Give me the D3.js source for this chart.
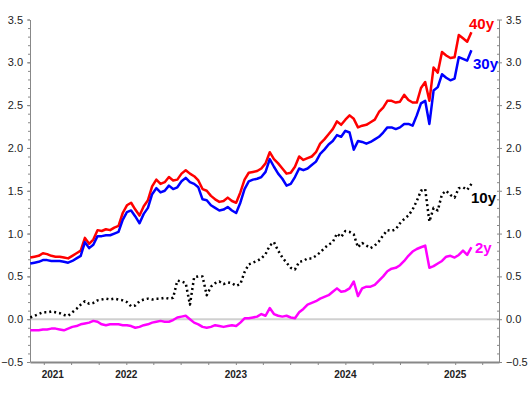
<!DOCTYPE html>
<html lang="en">
<head>
<meta charset="utf-8">
<title>Yields 2y 10y 30y 40y</title>
<script src="https://cdn.jsdelivr.net/npm/d3@7"></script>
<style>
  body { margin: 0; background: #fff; }
  svg { display: block; font-family: Arial, "Liberation Sans", sans-serif; }
  .axis path, .axis line { stroke: #888; }
  .axis text { fill: #222; font-size: 11px; }
</style>
</head>
<body>
<script>
// chart data, one value every two weeks from startDate
var startDate = "2021-02-15";
var stepDays = 14;

var y40 = [0.72,0.73,0.74,0.77,0.76,0.74,0.73,0.73,0.72,0.71,
           0.74,0.77,0.80,0.95,0.88,0.93,1.04,1.03,1.05,1.04,
           1.07,1.09,1.24,1.33,1.36,1.28,1.21,1.32,1.39,1.55,
           1.63,1.58,1.60,1.66,1.62,1.63,1.70,1.74,1.70,1.67,
           1.62,1.52,1.50,1.44,1.40,1.37,1.38,1.42,1.38,1.36,
           1.48,1.63,1.71,1.72,1.73,1.76,1.82,1.95,1.87,1.82,
           1.76,1.70,1.71,1.78,1.90,1.86,1.88,1.90,1.95,2.05,
           2.10,2.16,2.22,2.31,2.27,2.33,2.38,2.34,2.24,2.26,
           2.27,2.30,2.33,2.42,2.47,2.55,2.55,2.53,2.54,2.62,
           2.56,2.53,2.53,2.70,2.77,2.55,2.94,2.88,3.12,3.08,
           3.05,3.06,3.32,3.28,3.24,3.35];

var y30 = [0.65,0.66,0.67,0.69,0.69,0.68,0.68,0.68,0.67,0.66,
           0.68,0.71,0.74,0.90,0.83,0.87,0.97,0.97,0.98,0.98,
           1.00,1.02,1.16,1.25,1.27,1.20,1.12,1.23,1.30,1.46,
           1.53,1.48,1.50,1.56,1.52,1.54,1.61,1.65,1.60,1.58,
           1.54,1.40,1.39,1.33,1.30,1.27,1.28,1.31,1.27,1.24,
           1.36,1.52,1.61,1.63,1.64,1.66,1.72,1.87,1.78,1.70,
           1.64,1.56,1.58,1.66,1.76,1.74,1.76,1.80,1.84,1.93,
           1.98,2.04,2.08,2.15,2.13,2.20,2.18,1.98,2.08,2.07,
           2.05,2.07,2.10,2.13,2.18,2.24,2.24,2.22,2.24,2.28,
           2.28,2.26,2.38,2.52,2.55,2.28,2.67,2.71,2.86,2.82,
           2.79,2.81,3.06,3.04,3.02,3.14];

var y10 = [0.02,0.04,0.06,0.08,0.08,0.09,0.08,0.07,0.05,0.04,
           0.08,0.12,0.17,0.21,0.18,0.19,0.22,0.23,0.24,0.23,
           0.24,0.23,0.22,0.20,0.15,0.16,0.21,0.23,0.24,0.23,
           0.24,0.24,0.25,0.24,0.25,0.45,0.44,0.42,0.17,0.49,
           0.50,0.50,0.28,0.38,0.42,0.44,0.41,0.43,0.42,0.39,
           0.41,0.55,0.64,0.66,0.68,0.71,0.76,0.86,0.90,0.80,
           0.72,0.66,0.60,0.58,0.67,0.68,0.71,0.71,0.74,0.78,
           0.83,0.87,0.90,1.00,0.96,1.03,1.02,0.99,0.84,0.89,
           0.86,0.83,0.86,0.91,0.98,1.04,1.03,1.05,1.12,1.17,
           1.21,1.28,1.38,1.50,1.52,1.14,1.30,1.27,1.46,1.50,
           1.45,1.42,1.53,1.54,1.51,1.58];

var y2 = [-0.13,-0.13,-0.13,-0.12,-0.12,-0.11,-0.11,-0.12,-0.13,-0.11,
          -0.09,-0.08,-0.06,-0.05,-0.04,-0.02,-0.03,-0.06,-0.07,-0.06,
          -0.06,-0.06,-0.07,-0.07,-0.08,-0.10,-0.09,-0.07,-0.06,-0.04,
          -0.03,-0.02,-0.03,-0.03,-0.01,0.02,0.03,0.04,0.00,-0.04,
          -0.06,-0.09,-0.10,-0.09,-0.07,-0.08,-0.09,-0.08,-0.07,-0.08,
          -0.04,0.01,0.01,0.02,0.03,0.06,0.04,0.13,0.06,0.04,
          0.03,0.04,0.02,0.01,0.08,0.12,0.17,0.19,0.21,0.24,
          0.26,0.28,0.32,0.36,0.32,0.33,0.36,0.44,0.27,0.36,
          0.38,0.38,0.40,0.45,0.50,0.56,0.59,0.60,0.63,0.68,
          0.74,0.79,0.82,0.84,0.86,0.60,0.62,0.65,0.68,0.73,
          0.74,0.72,0.75,0.80,0.75,0.84];

var yTicks = [-0.5, 0.0, 0.5, 1.0, 1.5, 2.0, 2.5, 3.0, 3.5];
var yearLabels = ["2021", "2022", "2023", "2024", "2025"];
var yearLabelDates = ["2021-05-01", "2022-01-01", "2023-01-01", "2024-01-01", "2025-01-01"];
var seriesNames = ["40y", "30y", "10y", "2y"];

// layout
var W = 529, H = 397;
var margin = {top: 19.5, right: 30, bottom: 35, left: 30};
var width = W - margin.left - margin.right,
    height = H - margin.top - margin.bottom;

var parse = d3.timeParse("%Y-%m-%d");
var t0 = parse(startDate);
var dates = d3.range(y40.length).map(function(i) { return d3.timeDay.offset(t0, i * stepDays); });

var x = d3.scaleTime()
    .domain([parse("2021-02-14"), parse("2025-05-27")])
    .range([0, width]);
var y = d3.scaleLinear().domain([-0.5, 3.5]).range([height, 0]);

var svg = d3.select("body").append("svg")
    .attr("width", W)
    .attr("height", H)
  .append("g")
    .attr("transform", "translate(" + margin.left + "," + margin.top + ")");

// zero line
svg.append("line")
    .attr("x1", 0).attr("x2", width)
    .attr("y1", y(0)).attr("y2", y(0))
    .attr("stroke", "#d0d0d0")
    .attr("stroke-width", 2);

// minor ticks (every 0.1) on both sides
var minor = d3.range(-5, 36).map(function(d) { return d / 10; });
svg.append("g").attr("class", "axis")
    .call(d3.axisLeft(y).tickValues(minor).tickSize(2).tickFormat(""))
    .call(function(g) { g.select(".domain").remove(); });
svg.append("g").attr("class", "axis")
    .attr("transform", "translate(" + width + ",0)")
    .call(d3.axisLeft(y).tickValues(minor).tickSize(2).tickFormat(""))
    .call(function(g) { g.select(".domain").remove(); });

// major y axes
var fmt = d3.format(".1f");
svg.append("g").attr("class", "axis")
    .call(d3.axisLeft(y).tickValues(yTicks).tickSize(3).tickSizeOuter(0).tickPadding(4).tickFormat(fmt));
svg.append("g").attr("class", "axis")
    .attr("transform", "translate(" + width + ",0)")
    .call(d3.axisRight(y).tickValues(yTicks).tickSize(3).tickSizeOuter(0).tickPadding(4).tickFormat(fmt));

// x axis, quarterly ticks
svg.append("g").attr("class", "axis x")
    .attr("transform", "translate(0," + height + ")")
    .call(d3.axisBottom(x).ticks(d3.timeMonth.every(3)).tickSize(3).tickSizeOuter(0).tickFormat(""))
    .call(function(g) { g.select(".domain").attr("stroke", "#aaa").attr("stroke-width", 2); });

svg.selectAll(".year")
    .data(yearLabels)
    .enter().append("text")
    .attr("class", "year")
    .attr("x", function(d, i) { return x(parse(yearLabelDates[i])); })
    .attr("y", height + 16)
    .attr("text-anchor", "middle")
    .style("font-size", "10px")
    .style("font-weight", "bold")
    .style("fill", "#222")
    .text(function(d) { return d; });

// series
var line = d3.line()
    .x(function(d) { return x(d[0]); })
    .y(function(d) { return y(d[1]); });

function pairs(vals) { return vals.map(function(v, i) { return [dates[i], v]; }); }

var series = [
    {name: "2y",  vals: y2,  color: "#ff00ff", dash: null,  lx: 475, ly: 253},
    {name: "10y", vals: y10, color: "#000000", dash: "2,3", lx: 471, ly: 203},
    {name: "40y", vals: y40, color: "#ff0000", dash: null,  lx: 469, ly: 29},
    {name: "30y", vals: y30, color: "#0000ff", dash: null,  lx: 473, ly: 69}
];

series.forEach(function(s) {
    svg.append("path")
        .datum(pairs(s.vals))
        .attr("fill", "none")
        .attr("stroke", s.color)
        .attr("stroke-width", 2.5)
        .attr("stroke-linejoin", "round")
        .attr("stroke-dasharray", s.dash)
        .attr("d", line);

    svg.append("text")
        .attr("x", s.lx - margin.left)
        .attr("y", s.ly - margin.top)
        .style("font-size", "15px")
        .style("font-weight", "bold")
        .style("fill", s.color)
        .text(s.name);
});
</script>
</body>
</html>
